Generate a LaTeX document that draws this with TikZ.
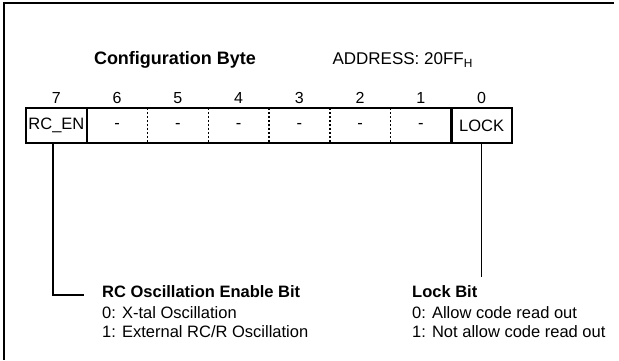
\documentclass[tikz,border=0pt]{standalone}
\usepackage{fontspec}
\setmainfont{Liberation Sans}
\begin{document}
\begin{tikzpicture}[x=1pt, y=-1pt,
    bitcell/.style={minimum width=60.75pt, minimum height=35pt, inner sep=0pt, font=\fontsize{16.5}{19}\selectfont},
    bitnum/.style={inner sep=0pt, font=\fontsize{16}{19}\selectfont},
    desc/.style={anchor=west, inner sep=0pt, font=\fontsize{16.5}{20}\selectfont},
    wire/.style={line width=1.5pt}]
    \useasboundingbox (0,0) rectangle (619,360);
    \draw[line width=1.5pt] (4,360) -- (4,3) -- (614,3);
    \node[font=\fontsize{18}{22}\selectfont\bfseries] (title) at (175,60) {Configuration Byte};
    \node[anchor=west, font=\fontsize{17}{20}\selectfont] (addr) at (329,60) {ADDRESS: 20FF\textsubscript{H}};
    % bit cells 7..0
    \foreach \b/\t [count=\i from 0] in {7/RC\_EN,6/-,5/-,4/-,3/-,2/-,1/-,0/LOCK} {
        \node[bitcell] (c\b) at (56.4+60.75*\i,125.5) {\t};
        \node[bitnum] (n\b) at (56.4+60.75*\i,98) {\b};
    }
    \draw[line width=2.5pt] (c7.north west) rectangle (c0.south east);
    \draw[line width=2.5pt] (c7.north east) -- (c7.south east);
    \draw[line width=2.5pt] (c1.north east) -- (c1.south east);
    \foreach \b in {6,5,4,3,2}
        \draw[line width=1.5pt, dash pattern=on 2pt off 2pt] (c\b.north east) -- (c\b.south east);
    % descriptions
    \node[desc, font=\fontsize{16.5}{20}\selectfont\bfseries] (rchead) at (102,292) {RC Oscillation Enable Bit};
    \node[desc] (rczero) at (102,313) {0: X-tal Oscillation};
    \node[desc] (rcone) at (102,332) {1: External RC/R Oscillation};
    \node[desc, font=\fontsize{16.5}{20}\selectfont\bfseries] (lockhead) at (412,292) {Lock Bit};
    \node[desc] (lockzero) at (412,313) {0: Allow code read out};
    \node[desc] (lockone) at (412,332) {1: Not allow code read out};
    \coordinate (rcend) at (84,295);
    \coordinate (lockend) at (c0.south |- 0,277);
    \draw[wire] ([xshift=-3.5pt]c7.south) |- (rcend);
    \draw[wire] (c0.south) -- (lockend);
\end{tikzpicture}
\end{document}
